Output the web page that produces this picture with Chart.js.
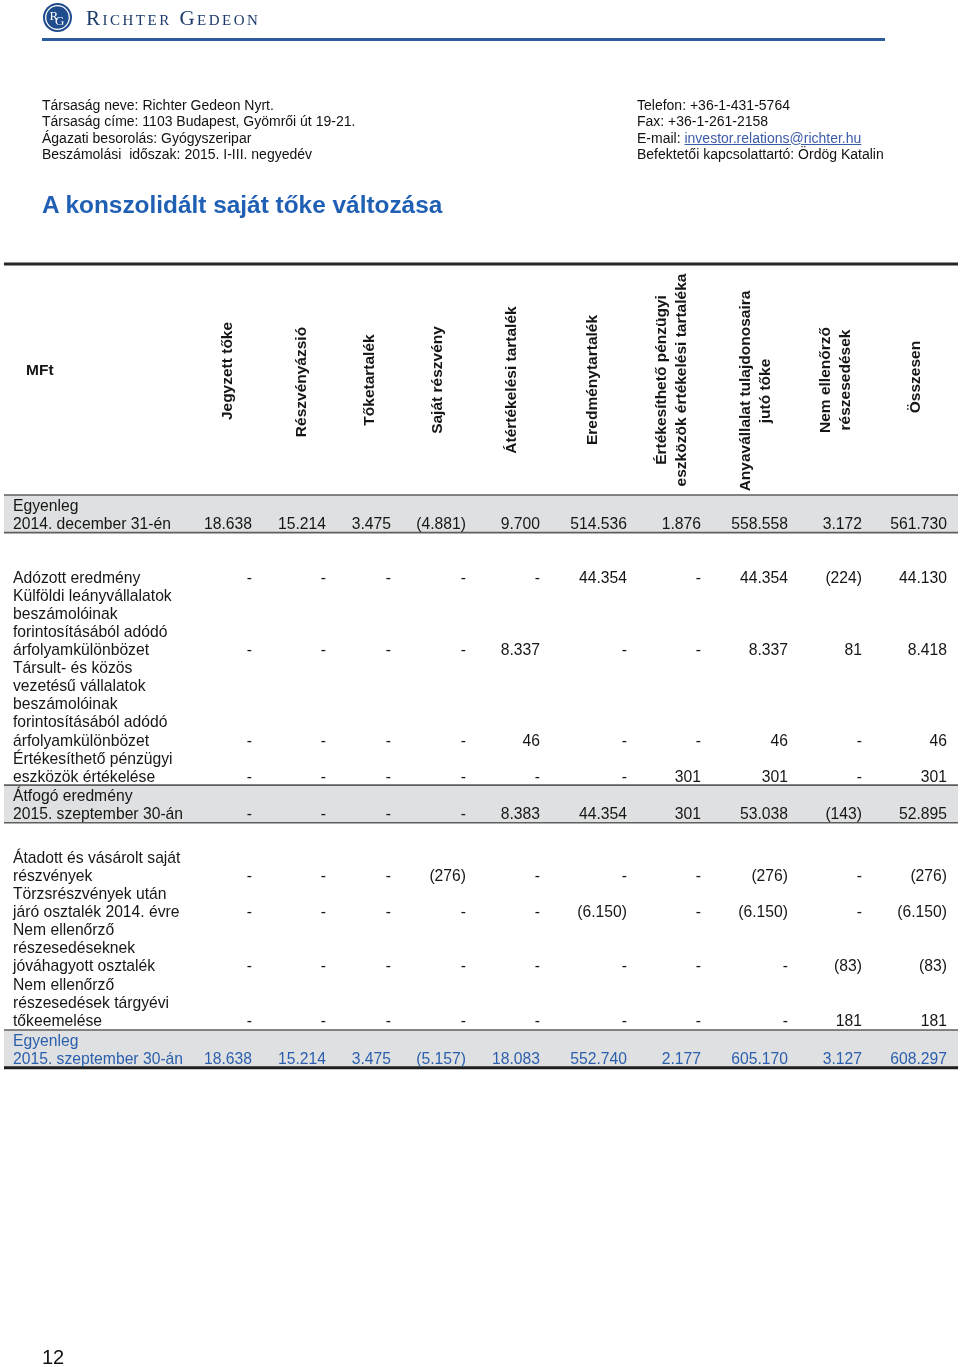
<!DOCTYPE html>
<html><head><meta charset="utf-8">
<script src="https://cdn.jsdelivr.net/npm/chart.js@4.4.1/dist/chart.umd.min.js"></script>
<style>
html,body{margin:0;padding:0;background:#fff;}
body{width:960px;height:1367px;position:relative;overflow:hidden;font-family:"Liberation Sans",Arial,sans-serif;}
#c{position:absolute;left:0;top:0;z-index:0;}
.t{position:absolute;white-space:nowrap;color:#111;z-index:1;}
.info{font-size:14px;line-height:16.3px;}
a{color:#3b5ba8;text-decoration:underline;}
</style></head><body>
<svg style="position:absolute;left:40px;top:1px;z-index:1" width="36" height="36">
  <circle cx="17.5" cy="16.5" r="14.5" fill="#1f4c8c"/>
  <circle cx="17.5" cy="16.5" r="11.8" fill="none" stroke="#fff" stroke-width="1.3"/>
  <text x="9.5" y="19" font-family="Liberation Serif" font-size="13" fill="#fff">R</text>
  <text x="15" y="24" font-family="Liberation Serif" font-size="13" fill="#fff">G</text>
</svg>
<div class="t" style="left:86px;top:8px;font-family:'Liberation Serif',serif;font-size:21px;line-height:21px;font-variant:small-caps;letter-spacing:2.5px;color:#1b3a6b;">Richter Gedeon</div>
<div class="t" style="left:42px;top:37.5px;width:843px;height:3px;background:#2b5c9e;"></div>
<div class="t info" style="left:42px;top:97px;">Társaság neve: Richter Gedeon Nyrt.<br>Társaság címe: 1103 Budapest, Gyömrői út 19-21.<br>Ágazati besorolás: Gyógyszeripar<br>Beszámolási&nbsp; időszak: 2015. I-III. negyedév</div>
<div class="t info" style="left:637px;top:97px;">Telefon: +36-1-431-5764<br>Fax: +36-1-261-2158<br>E-mail: <a>investor.relations@richter.hu</a><br>Befektetői kapcsolattartó: Ördög Katalin</div>
<div class="t" style="left:42px;top:191px;font-size:24.4px;line-height:28px;font-weight:bold;color:#1f5fb4;">A konszolidált saját tőke változása</div>
<div class="t" style="left:42px;top:1346px;font-size:20px;line-height:22px;">12</div>
<canvas id="c" width="960" height="1367"></canvas>
<script>
// ---- DATA ----
const unitLabel = 'MFt';
const columnHeaders = [
  ['Jegyzett tőke'],
  ['Részvényázsió'],
  ['Tőketartalék'],
  ['Saját részvény'],
  ['Átértékelési tartalék'],
  ['Eredménytartalék'],
  ['Értékesíthető pénzügyi', 'eszközök értékelési tartaléka'],
  ['Anyavállalat tulajdonosaira', 'jutó tőke'],
  ['Nem ellenőrző', 'részesedések'],
  ['Összesen']
];
const rowLabels = [
  ['Egyenleg', '2014. december 31-én'],
  ['Adózott eredmény'],
  ['Külföldi leányvállalatok', 'beszámolóinak', 'forintosításából adódó', 'árfolyamkülönbözet'],
  ['Társult- és közös', 'vezetésű vállalatok', 'beszámolóinak', 'forintosításából adódó', 'árfolyamkülönbözet'],
  ['Értékesíthető pénzügyi', 'eszközök értékelése'],
  ['Átfogó eredmény', '2015. szeptember 30-án'],
  ['Átadott és vásárolt saját', 'részvények'],
  ['Törzsrészvények után', 'járó osztalék 2014. évre'],
  ['Nem ellenőrző', 'részesedéseknek', 'jóváhagyott osztalék'],
  ['Nem ellenőrző', 'részesedések tárgyévi', 'tőkeemelése'],
  ['Egyenleg', '2015. szeptember 30-án']
];
const balance2014        = [18638, 15214, 3475, -4881, 9700, 514536, 1876, 558558, 3172, 561730];
const profitAfterTax     = [0, 0, 0, 0, 0, 44354, 0, 44354, -224, 44130];
const fxForeignSubs      = [0, 0, 0, 0, 8337, 0, 0, 8337, 81, 8418];
const fxAssociates       = [0, 0, 0, 0, 46, 0, 0, 46, 0, 46];
const afsRevaluation     = [0, 0, 0, 0, 0, 0, 301, 301, 0, 301];
const comprehensive      = [0, 0, 0, 0, 8383, 44354, 301, 53038, -143, 52895];
const treasuryShares     = [0, 0, 0, -276, 0, 0, 0, -276, 0, -276];
const dividendOrdinary   = [0, 0, 0, 0, 0, -6150, 0, -6150, 0, -6150];
const dividendNci        = [0, 0, 0, 0, 0, 0, 0, 0, -83, -83];
const nciCapitalIncrease = [0, 0, 0, 0, 0, 0, 0, 0, 181, 181];
const balance2015        = [18638, 15214, 3475, -5157, 18083, 552740, 2177, 605170, 3127, 608297];
const rowValues = [balance2014, profitAfterTax, fxForeignSubs, fxAssociates, afsRevaluation,
  comprehensive, treasuryShares, dividendOrdinary, dividendNci, nciCapitalIncrease, balance2015];

// ---- LAYOUT (page units of the scales) ----
const L = {
  colRight: [252, 326, 391, 466, 540, 627, 701, 788, 862, 947],
  headCx:   [228, 302, 370, 438, 512, 593, 672, 756, 836, 916],
  headCy:   [371, 382, 380, 380, 380, 380, 380, 391, 380, 377],
  headLineGap: 20,
  labelX: 13, unitX: 26, unitY: 371,
  firstLine: 505, pitch: 18.1,
  gapBefore: [0, 1.98, 0, 0, 0, 0.05, 1.43, 0, 0, 0, 0.1],
  band: [true, false, false, false, false, true, false, false, false, false, true],
  tableLeft: 4, tableRight: 958, topRule: 264,
  font: '15.7px "Liberation Sans", Arial, sans-serif',
  headFont: 'bold 15.5px "Liberation Sans", Arial, sans-serif',
  text: '#161616', blue: '#2b5fad', bandFill: '#dfe0e1', bandLine: '#5e5e5e'
};

function fmt(v) {
  if (v === 0 || v == null) return '-';
  const s = Math.abs(v).toString().replace(/\B(?=(\d{3})+(?!\d))/g, '.');
  return v < 0 ? '(' + s + ')' : s;
}

const tablePlugin = {
  id: 'tablePlugin',
  afterDraw(chart) {
    const ctx = chart.ctx, xs = chart.scales.x, ys = chart.scales.y;
    const X = v => xs.getPixelForValue(v), Y = v => ys.getPixelForValue(v);
    ctx.save();
    let line = 0;
    const rowsPos = rowLabels.map((lab, i) => {
      line += L.gapBefore[i];
      const start = line;
      line += lab.length;
      return { start, end: line - 1 };
    });
    const yLine = n => L.firstLine + n * L.pitch;
    rowsPos.forEach((p, i) => {
      if (!L.band[i]) return;
      const top = yLine(p.start) - 10, bot = yLine(p.end) + 9.5;
      ctx.fillStyle = L.bandFill;
      ctx.fillRect(X(L.tableLeft), Y(top), X(L.tableRight) - X(L.tableLeft), Y(bot) - Y(top));
      ctx.strokeStyle = L.bandLine; ctx.lineWidth = 1.6;
      ctx.beginPath(); ctx.moveTo(X(L.tableLeft), Y(top)); ctx.lineTo(X(L.tableRight), Y(top)); ctx.stroke();
      const last = i === rowLabels.length - 1;
      ctx.strokeStyle = last ? '#1e1e1e' : L.bandLine; ctx.lineWidth = last ? 3 : 1.6;
      ctx.beginPath(); ctx.moveTo(X(L.tableLeft), Y(bot)); ctx.lineTo(X(L.tableRight), Y(bot)); ctx.stroke();
    });
    ctx.strokeStyle = '#262626'; ctx.lineWidth = 3;
    ctx.beginPath(); ctx.moveTo(X(L.tableLeft), Y(L.topRule)); ctx.lineTo(X(L.tableRight), Y(L.topRule)); ctx.stroke();
    ctx.fillStyle = L.text; ctx.font = L.headFont;
    ctx.textAlign = 'left'; ctx.textBaseline = 'middle';
    ctx.fillText(unitLabel, X(L.unitX), Y(L.unitY));
    columnHeaders.forEach((h, j) => {
      ctx.save();
      ctx.translate(X(L.headCx[j]), Y(L.headCy[j]));
      ctx.rotate(-Math.PI / 2);
      ctx.textAlign = 'center'; ctx.textBaseline = 'middle';
      const n = h.length;
      h.forEach((t, k) => {
        const off = (k - (n - 1) / 2) * L.headLineGap;
        ctx.fillText(t, 0, off);
      });
      ctx.restore();
    });
    ctx.font = L.font; ctx.textBaseline = 'alphabetic';
    rowsPos.forEach((p, i) => {
      const blue = i === rowLabels.length - 1;
      ctx.fillStyle = blue ? L.blue : L.text;
      ctx.textAlign = 'left';
      rowLabels[i].forEach((t, k) => ctx.fillText(t, X(L.labelX), Y(yLine(p.start + k) + 5.6)));
      ctx.textAlign = 'right';
      rowValues[i].forEach((v, j) => ctx.fillText(fmt(v), X(L.colRight[j]), Y(yLine(p.end) + 5.6)));
    });
    ctx.restore();
  }
};

new Chart(document.getElementById('c'), {
  type: 'scatter',
  data: { datasets: [{ data: [], showLine: false }] },
  options: {
    responsive: false, animation: false, events: [],
    layout: { padding: 0 },
    plugins: { legend: { display: false }, tooltip: { enabled: false } },
    scales: {
      x: { type: 'linear', min: 0, max: 960, display: false },
      y: { type: 'linear', min: 0, max: 1367, reverse: true, display: false }
    }
  },
  plugins: [tablePlugin]
});
</script>
</body></html>
